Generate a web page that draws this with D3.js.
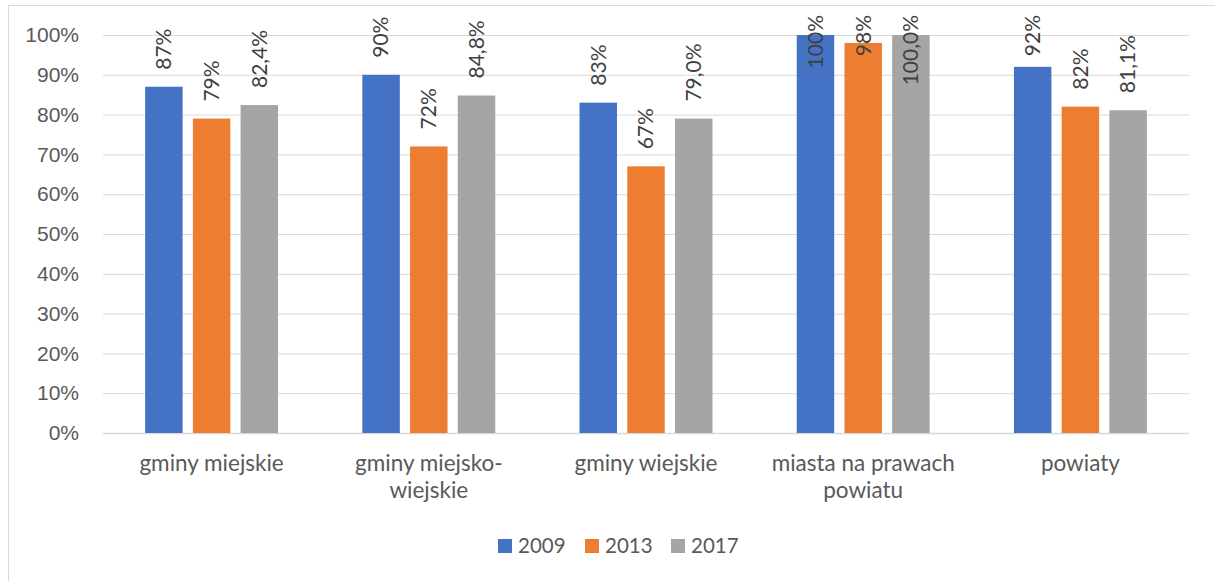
<!DOCTYPE html>
<html>
<head>
<meta charset="utf-8">
<script src="https://cdn.jsdelivr.net/npm/d3@7"></script>
<style>
  body { margin: 0; background: #fff; }
  svg { font-family: Lato, "Open Sans", sans-serif; }
</style>
</head>
<body>
<div id="chart"></div>
<script>
// chart data
const categories = ["gminy miejskie", "gminy miejsko-\nwiejskie", "gminy wiejskie", "miasta na prawach\npowiatu", "powiaty"];
const seriesNames = ["2009", "2013", "2017"];
const values2009 = [0.87, 0.90, 0.83, 1.00, 0.92];
const values2013 = [0.79, 0.72, 0.67, 0.98, 0.82];
const values2017 = [0.824, 0.848, 0.790, 1.000, 0.811];
const labels2009 = ["87%", "90%", "83%", "100%", "92%"];
const labels2013 = ["79%", "72%", "67%", "98%", "82%"];
const labels2017 = ["82,4%", "84,8%", "79,0%", "100,0%", "81,1%"];
const yTicks = [0, 0.1, 0.2, 0.3, 0.4, 0.5, 0.6, 0.7, 0.8, 0.9, 1.0];
const colors = ["#4472C4", "#ED7D31", "#A5A5A5"];

function createChart(containerId, W, H) {
    d3.select(containerId).selectAll("*").remove();
    const plot = {left: 103, right: 1189, top: 35, bottom: 433};

    const svg = d3.select(containerId).append("svg")
        .attr("width", W)
        .attr("height", H);

    // outer chart frame (right/bottom edges fall outside the picture)
    svg.append("rect")
        .attr("x", 8.5).attr("y", 5.5)
        .attr("width", W + 20).attr("height", H + 20)
        .attr("fill", "#fff")
        .attr("stroke", "#d9d9d9");

    const yScale = d3.scaleLinear().domain([0, 1]).range([plot.bottom, plot.top]);
    const x0 = d3.scaleBand().domain(categories).range([plot.left, plot.right]);
    const bw = x0.bandwidth();
    const x1 = d3.scaleBand().domain(seriesNames)
        .range([bw * 0.194, bw * 0.806])
        .paddingInner(0.215);

    // gridlines + tick labels
    const yAxis = svg.append("g")
        .attr("transform", `translate(${plot.left},0)`)
        .call(d3.axisLeft(yScale).tickValues(yTicks)
            .tickSize(-(plot.right - plot.left))
            .tickPadding(24)
            .tickFormat(d3.format(".0%")));
    yAxis.select(".domain").remove();
    yAxis.selectAll(".tick line").attr("stroke", "#d9d9d9").attr("stroke-width", 1);
    yAxis.selectAll(".tick text")
        .attr("fill", "#595959")
        .style("font-size", "21px");

    // bottom axis line
    svg.append("line")
        .attr("x1", plot.left).attr("x2", plot.right)
        .attr("y1", yScale(0) + 0.5).attr("y2", yScale(0) + 0.5)
        .attr("stroke", "#d9d9d9").attr("stroke-width", 1.5);

    const series = [
        {name: "2009", values: values2009, labels: labels2009},
        {name: "2013", values: values2013, labels: labels2013},
        {name: "2017", values: values2017, labels: labels2017}
    ];

    series.forEach((s, si) => {
        const g = svg.append("g");
        g.selectAll("rect")
            .data(s.values)
            .enter().append("rect")
            .attr("x", (d, i) => x0(categories[i]) + x1(s.name))
            .attr("y", d => yScale(d))
            .attr("width", x1.bandwidth())
            .attr("height", d => yScale(0) - yScale(d))
            .attr("fill", colors[si]);

        // rotated data labels
        g.selectAll("text")
            .data(s.values)
            .enter().append("text")
            .text((d, i) => s.labels[i])
            .attr("fill", "#404040")
            .style("font-size", "21px")
            .attr("text-anchor", "start")
            .attr("dy", "0.35em")
            .each(function(d, i) {
                const len = this.getComputedTextLength();
                let start = yScale(d) - 17;
                if (start - len < 15) start = 15 + len; // keep inside chart area
                const cx = x0(categories[i]) + x1(s.name) + x1.bandwidth() / 2;
                d3.select(this).attr("transform", `translate(${cx},${start}) rotate(-90)`);
            });
    });

    // category labels (wrapped)
    const catG = svg.append("g");
    categories.forEach(c => {
        const t = catG.append("text")
            .attr("x", x0(c) + bw / 2)
            .attr("y", 471)
            .attr("text-anchor", "middle")
            .attr("fill", "#595959")
            .style("font-size", "22.5px");
        c.split("\n").forEach((line, li) => {
            t.append("tspan")
                .attr("x", x0(c) + bw / 2)
                .attr("dy", li === 0 ? 0 : 27)
                .text(line);
        });
    });

    // legend
    const legendX = [498, 585, 671];
    const legend = svg.append("g");
    seriesNames.forEach((n, i) => {
        legend.append("rect")
            .attr("x", legendX[i]).attr("y", 539)
            .attr("width", 14).attr("height", 14)
            .attr("fill", colors[i]);
        legend.append("text")
            .attr("x", legendX[i] + 20).attr("y", 553)
            .attr("fill", "#595959")
            .style("font-size", "20.5px")
            .text(n);
    });
}

createChart("#chart", 1215, 581);
</script>
</body>
</html>
